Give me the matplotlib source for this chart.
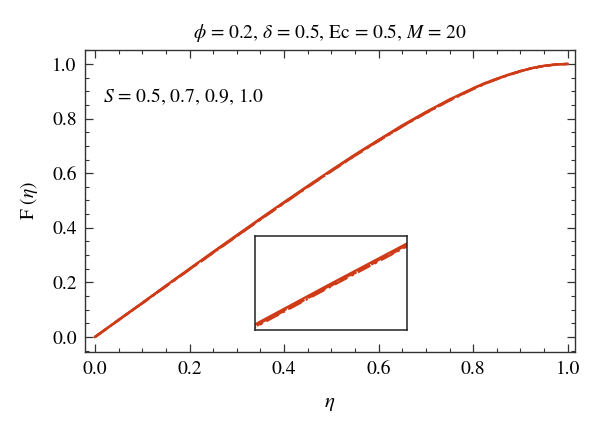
import matplotlib
matplotlib.use("Agg")
import matplotlib.pyplot as plt
from matplotlib.ticker import MultipleLocator

plt.rcParams['font.family'] = ['STIXGeneral', 'DejaVu Serif']
plt.rcParams['mathtext.fontset'] = 'stix'

eta = [0.0, 0.05, 0.1, 0.15, 0.2, 0.25, 0.3, 0.35, 0.4, 0.45, 0.5,
       0.55, 0.6, 0.65, 0.7, 0.75, 0.8, 0.825, 0.85, 0.875, 0.9, 0.925, 0.95, 0.975, 1.0]
F_S05 = [0.0, 0.063, 0.125, 0.188, 0.250, 0.312, 0.373, 0.434, 0.494, 0.553, 0.611,
         0.668, 0.722, 0.775, 0.824, 0.870, 0.911, 0.930, 0.946, 0.961, 0.974, 0.985, 0.993, 0.998, 1.0]
F_S07 = [0.0, 0.062, 0.124, 0.187, 0.249, 0.310, 0.371, 0.432, 0.492, 0.551, 0.609,
         0.666, 0.720, 0.773, 0.822, 0.868, 0.910, 0.929, 0.945, 0.960, 0.974, 0.985, 0.993, 0.998, 1.0]
F_S09 = [0.0, 0.062, 0.124, 0.186, 0.248, 0.309, 0.370, 0.431, 0.491, 0.550, 0.608,
         0.665, 0.719, 0.772, 0.821, 0.867, 0.909, 0.928, 0.945, 0.960, 0.973, 0.985, 0.993, 0.998, 1.0]
F_S10 = [0.0, 0.062, 0.123, 0.185, 0.247, 0.308, 0.369, 0.430, 0.490, 0.549, 0.607,
         0.664, 0.718, 0.771, 0.820, 0.866, 0.908, 0.927, 0.944, 0.959, 0.973, 0.984, 0.993, 0.998, 1.0]
series = [F_S05, F_S07, F_S09, F_S10]
styles = ['-', (0, (6, 2)), (0, (3, 2)), (0, (6, 2, 1, 2))]
color = '#cf3a17'

title = r'$\phi$ = 0.2, $\delta$ = 0.5, Ec = 0.5, $M$ = 20'
annot = r'$S$ = 0.5, 0.7, 0.9, 1.0'
xticks = [0.0, 0.2, 0.4, 0.6, 0.8, 1.0]
yticks = [0.0, 0.2, 0.4, 0.6, 0.8, 1.0]

fig = plt.figure(figsize=(6.0, 4.33), dpi=100)
ax = fig.add_axes([0.1417, 0.187, 0.8163, 0.6975])
for F, ls in zip(series, styles):
    ax.plot(eta, F, color=color, lw=1.7, linestyle=ls)

ax.set_xlim(-0.021, 1.015)
ax.set_ylim(-0.055, 1.051)
ax.set_xticks(xticks)
ax.set_yticks(yticks)
ax.set_xticklabels([f'{v:.1f}' for v in xticks])
ax.set_yticklabels([f'{v:.1f}' for v in yticks])
ax.xaxis.set_minor_locator(MultipleLocator(0.05))
ax.yaxis.set_minor_locator(MultipleLocator(0.05))
ax.tick_params(which='both', direction='in', top=True, right=True,
               labelsize=14, color='#333333')
ax.tick_params(which='major', length=6, width=0.9, pad=6)
ax.tick_params(which='minor', length=3, width=0.8)
for sp in ax.spines.values():
    sp.set_color('#333333')
    sp.set_linewidth(1.0)

ax.set_title(title, fontsize=14, pad=9)
ax.set_xlabel(r'$\eta$', fontsize=15, labelpad=11)
ax.set_ylabel(r'F ($\eta$)', fontsize=14, labelpad=9)
ax.text(0.017, 0.88, annot, fontsize=14, va='center', ha='left')

axin = fig.add_axes([0.425, 0.2379, 0.253, 0.217])
for F, ls in zip(series, styles):
    axin.plot(eta, F, color=color, lw=1.7, linestyle=ls)
axin.set_xlim(0.40, 0.50)
axin.set_ylim(0.486, 0.622)
axin.set_xticks([])
axin.set_yticks([])
for sp in axin.spines.values():
    sp.set_color('#222222')
    sp.set_linewidth(1.1)

fig.savefig('out.png', dpi=100)
